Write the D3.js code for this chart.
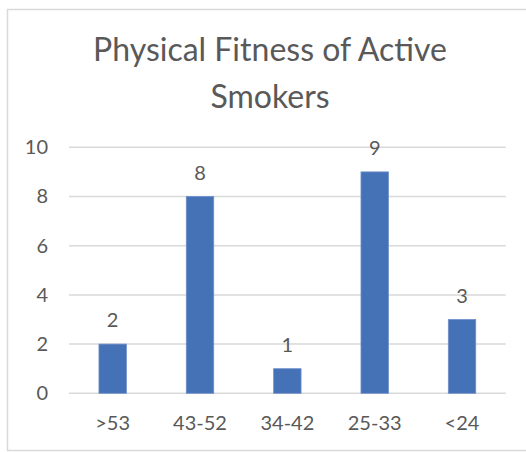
<!DOCTYPE html>
<html>
<head>
<meta charset="utf-8">
<script src="https://cdn.jsdelivr.net/npm/d3@7"></script>
<style>
html,body{margin:0;padding:0;background:#fff;}
svg{display:block;}
text{font-family:Lato, "Open Sans", sans-serif;fill:#595959;}
</style>
</head>
<body>
<svg id="chart" width="526" height="452"></svg>
<script>
const categories = [">53", "43-52", "34-42", "25-33", "<24"];
const values = [2, 8, 1, 9, 3];
const yTicks = [0, 2, 4, 6, 8, 10];
const titleLines = ["Physical Fitness of Active", "Smokers"];

const svg = d3.select("#chart");

// chart frame
svg.append("rect")
  .attr("x", 7.5).attr("y", 9.5)
  .attr("width", 540).attr("height", 441)
  .attr("fill", "#fff")
  .attr("stroke", "#D9D9D9").attr("stroke-width", 1.5);

const x = d3.scaleBand().domain(categories).range([69, 505.7]).paddingInner(0.686).paddingOuter(0.343);
const y = d3.scaleLinear().domain([0, 10]).range([393.3, 147.3]);

// gridlines
svg.append("g").selectAll("line").data(yTicks).join("line")
  .attr("x1", 69).attr("x2", 505.7)
  .attr("y1", d => y(d)).attr("y2", d => y(d))
  .attr("stroke", "#D9D9D9").attr("stroke-width", 1.5);

// y axis labels
const yAxis = d3.axisLeft(y).tickValues(yTicks).tickSize(0).tickPadding(0);
const gy = svg.append("g").attr("transform", "translate(48,0)").call(yAxis);
gy.select(".domain").remove();
gy.selectAll("text").attr("font-size", 20).attr("fill", "#595959")
  .style("font-family", "Lato, 'Open Sans', sans-serif");

// bars
svg.append("g").selectAll("rect").data(values).join("rect")
  .attr("x", (d, i) => x(categories[i]))
  .attr("width", x.bandwidth())
  .attr("y", d => y(d))
  .attr("height", d => y(0) - y(d))
  .attr("fill", "#4571B6")
  .attr("stroke", "#6F8FCB").attr("stroke-width", 0.8);

// data labels
svg.append("g").selectAll("text").data(values).join("text")
  .attr("x", (d, i) => x(categories[i]) + x.bandwidth() / 2)
  .attr("y", d => y(d) - 24)
  .attr("dy", "0.35em")
  .attr("text-anchor", "middle")
  .attr("font-size", 20)
  .text(d => d);

// x axis labels
const xAxis = d3.axisBottom(x).tickSize(0).tickPadding(0);
const gx = svg.append("g").attr("transform", "translate(0,416)").call(xAxis);
gx.select(".domain").remove();
gx.selectAll("text").attr("font-size", 20).attr("fill", "#595959")
  .style("font-family", "Lato, 'Open Sans', sans-serif");

// title
svg.append("g").selectAll("text").data(titleLines).join("text")
  .attr("x", 270)
  .attr("y", (d, i) => 50 + i * 47)
  .attr("dy", "0.35em")
  .attr("text-anchor", "middle")
  .attr("font-size", 32)
  .text(d => d);
</script>
</body>
</html>
